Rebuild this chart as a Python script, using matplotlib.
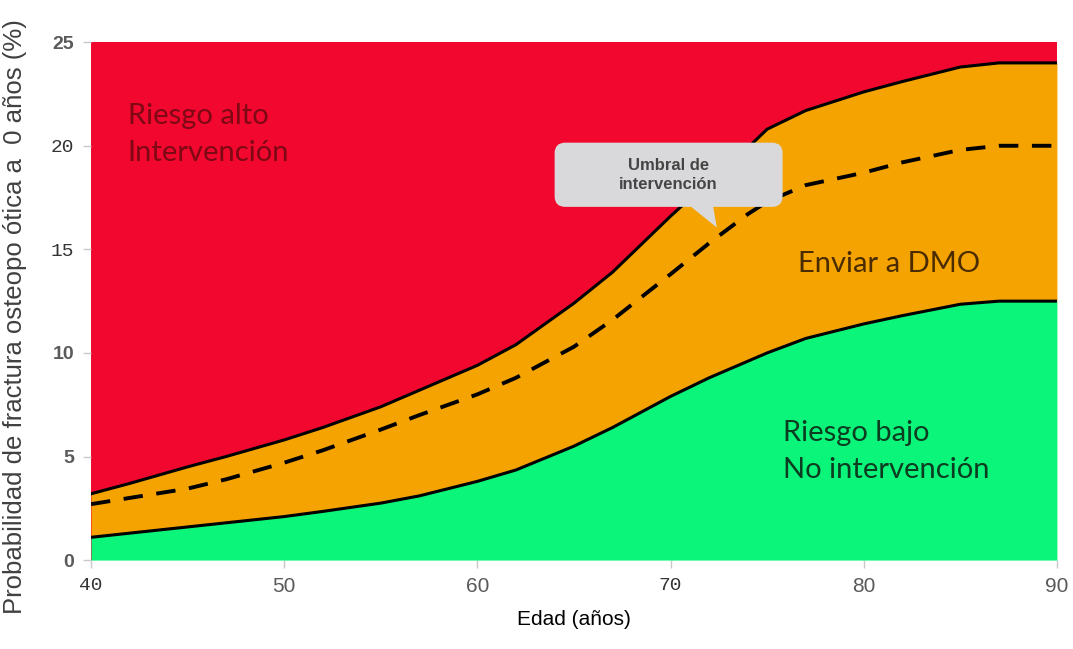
import matplotlib
matplotlib.use("Agg")
import matplotlib.pyplot as plt
from matplotlib.patches import FancyBboxPatch, Polygon

# --- datos ---
edad = [40, 42, 45, 47, 50, 52, 55, 57, 60, 62, 65, 67, 70, 72, 74, 75, 77, 80, 82, 85, 87, 90]
limite_superior = [3.2, 3.7, 4.5, 5.0, 5.8, 6.4, 7.4, 8.2, 9.4, 10.4, 12.4, 13.9, 16.6, 18.3,
                   19.9, 20.8, 21.7, 22.6, 23.1, 23.8, 24.0, 24.0]
umbral = [2.7, 3.0, 3.45, 3.9, 4.7, 5.3, 6.3, 7.0, 8.0, 8.8, 10.3, 11.6, 13.8, 15.3,
          16.7, 17.3, 18.1, 18.7, 19.2, 19.8, 20.0, 20.0]
limite_inferior = [1.1, 1.3, 1.6, 1.8, 2.1, 2.35, 2.75, 3.1, 3.8, 4.35, 5.5, 6.4, 7.9, 8.8,
                   9.6, 10.0, 10.7, 11.4, 11.8, 12.35, 12.5, 12.5]

x_ticks = [40, 50, 60, 70, 80, 90]
y_ticks = [0, 5, 10, 15, 20, 25]
mono_labels = {"40", "70", "15", "20"}  # estas etiquetas salen en otra fuente

ROJO = "#F2072E"
NARANJA = "#F5A300"
VERDE = "#0BF57A"
GRIS = "#5A5A5A"

fig = plt.figure(figsize=(10.73, 6.49), dpi=100)
ax = fig.add_axes([0.0848, 0.137, 0.9002, 0.798])
ax.set_xlim(40, 90)
ax.set_ylim(0, 25)

# zonas de riesgo
ax.fill_between(edad, 0, 25, color=ROJO, lw=0, zorder=1)
ax.fill_between(edad, limite_inferior, limite_superior, color=NARANJA, lw=0, zorder=2)
ax.fill_between(edad, 0, limite_inferior, color=VERDE, lw=0, zorder=2)

ax.plot(edad, limite_superior, color="black", lw=2.2, zorder=3)
ax.plot(edad, limite_inferior, color="black", lw=2.2, zorder=3)
ax.plot(edad, umbral, color="black", lw=2.8, dashes=(5, 3.5), zorder=3)

# textos de las zonas
font_txt = "Lato"
ax.text(41.9, 20.55, "Riesgo alto\nIntervención", fontsize=21, family=font_txt,
        color="#7E0814", va="center", ha="left", linespacing=1.5, zorder=4)
ax.text(76.6, 14.3, "Enviar a DMO", fontsize=21, family=font_txt,
        color="#4A2C00", va="center", ha="left", zorder=4)
ax.text(75.8, 5.25, "Riesgo bajo\nNo intervención", fontsize=21, family=font_txt,
        color="#0B3D20", va="center", ha="left", linespacing=1.5, zorder=4)

# globo "Umbral de intervención"
caja = FancyBboxPatch((64.0, 17.05), 11.8, 3.1,
                      boxstyle="round,pad=0,rounding_size=0.55",
                      mutation_aspect=0.93, fc="#D9D9DB", ec="none", zorder=5)
ax.add_patch(caja)
ax.add_patch(Polygon([[71.0, 17.1], [72.2, 17.1], [72.4, 16.05]], closed=True,
                     fc="#D9D9DB", ec="none", zorder=5))
ax.text(69.9, 18.6, "Umbral de\nintervención", fontsize=12, fontweight="bold",
        family="Liberation Sans", color="#454545", ha="center", va="center",
        linespacing=1.3, zorder=6)

# ejes
for s in ax.spines.values():
    s.set_visible(False)
ax.set_xticks(x_ticks)
ax.set_yticks(y_ticks)
ax.tick_params(axis="both", length=6, width=1, color="#C8C8C8", labelcolor=GRIS,
               labelsize=14, pad=6)
ax.set_xticklabels([str(t) for t in x_ticks])
ax.set_yticklabels([str(t) for t in y_ticks])
for lab in ax.get_xticklabels():
    if lab.get_text() in mono_labels:
        lab.set_family("Liberation Mono")
        lab.set_color("#333333")
    else:
        lab.set_family(["Liberation Sans Narrow", "Liberation Sans"])
        lab.set_fontsize(15)
for lab in ax.get_yticklabels():
    if lab.get_text() in mono_labels:
        lab.set_family("Liberation Mono")
        lab.set_color("#333333")
    else:
        lab.set_family("Liberation Sans")
        lab.set_fontweight("bold")

ax.set_xlabel("Edad (años)", fontsize=15, family=["Liberation Sans Narrow", "Liberation Sans"],
              color="black", labelpad=10)
ax.set_ylabel("Probabilidad de fractura osteopo ótica a  0 años (%)", fontsize=18.5,
              family="Liberation Sans", color="#404040")
ax.yaxis.set_label_coords(-0.066, 0.47)

fig.savefig("out.png", dpi=100)
